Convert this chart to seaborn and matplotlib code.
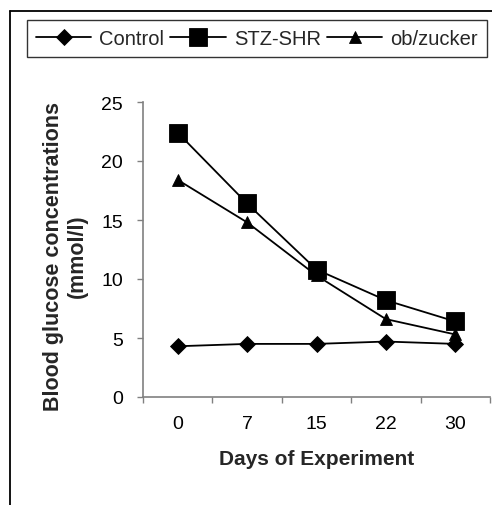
import numpy as np
import pandas as pd
import matplotlib
matplotlib.use("Agg")
import matplotlib.pyplot as plt
from matplotlib.lines import Line2D
from matplotlib.ticker import NullFormatter
import seaborn as sns

days = ["0", "7", "15", "22", "30"]
control = [4.3, 4.5, 4.5, 4.7, 4.5]
stz_shr = [22.4, 16.4, 10.8, 8.2, 6.4]
ob_zucker = [18.4, 14.8, 10.3, 6.6, 5.3]

sns.set_style("white")
plt.rcParams["font.family"] = ["Liberation Sans", "DejaVu Sans"]

fig = plt.figure(figsize=(4.92, 5.06), dpi=100)
ax = fig.add_axes([143 / 492, 1 - 398 / 506, (490 - 143) / 492, (398 - 103) / 506])

series = [
    ("Control", control, "D", 8.5),
    ("STZ-SHR", stz_shr, "s", 12.5),
    ("ob/zucker", ob_zucker, "^", 9),
]
for name, vals, mk, ms in series:
    df = pd.DataFrame({"day": days, "value": vals})
    sns.pointplot(data=df, x="day", y="value", order=days, color="black",
                  markers=mk, linestyles="-", errorbar=None, ax=ax,
                  linewidth=1.3, markersize=ms, markeredgewidth=0.6,
                  label=name)

handles, labels = ax.get_legend_handles_labels()
if ax.get_legend() is not None:
    ax.get_legend().remove()

ax.set_ylim(0, 25)
ax.set_xlim(-0.5, 4.5)
ax.set_yticks([0, 5, 10, 15, 20, 25])
ax.set_xticks(np.arange(-0.5, 5, 1))
ax.xaxis.set_major_formatter(NullFormatter())
ax.set_xticks(np.arange(5), minor=True)
ax.set_xticklabels(days, minor=True)

for s in ["top", "right"]:
    ax.spines[s].set_visible(False)
for s in ["left", "bottom"]:
    ax.spines[s].set_color("#808080")
    ax.spines[s].set_linewidth(1.2)

ax.tick_params(axis="y", which="major", direction="out", length=4.5, width=1,
               color="#808080", pad=10, labelsize=14, labelcolor="black", left=True)
ax.tick_params(axis="x", which="major", direction="out", length=4, width=1,
               color="#808080", bottom=True)
ax.tick_params(axis="x", which="minor", length=0, pad=13, labelsize=14,
               labelcolor="black", bottom=True)

ax.set_xlabel("Days of Experiment", fontsize=15, fontweight="bold", labelpad=12)
ax.set_ylabel("Blood glucose concentrations\n(mmol/l)", fontsize=15.5,
              fontweight="bold", linespacing=1.2)
ax.yaxis.set_label_coords(-0.158, 0.48)

leg = fig.legend(handles, labels, loc="center", bbox_to_anchor=(257 / 492, 1 - 39.5 / 506),
                 ncol=3, frameon=True, fancybox=False, edgecolor="black",
                 fontsize=14.5, handlelength=2.75, handletextpad=0.4,
                 columnspacing=0.3, borderpad=0.45)
leg.get_frame().set_linewidth(1.0)

# outer frame (left and top edges visible)
fig.add_artist(Line2D([10 / 492, 10 / 492], [0, 1 - 12 / 506], transform=fig.transFigure,
                      color="black", linewidth=1.3))
fig.add_artist(Line2D([10 / 492, 1], [1 - 12 / 506, 1 - 12 / 506], transform=fig.transFigure,
                      color="black", linewidth=1.3))

fig.savefig("out.png", dpi=100)
